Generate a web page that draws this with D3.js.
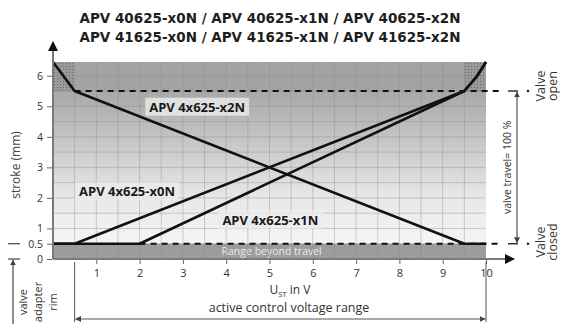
<!DOCTYPE html>
<html>
<head>
<meta charset="utf-8">
<script src="https://cdn.jsdelivr.net/npm/d3@7"></script>
<style>
html, body { margin: 0; padding: 0; background: #fff; }
svg { display: block; font-family: "Open Sans", sans-serif; }
</style>
</head>
<body>
<svg id="chart" width="569" height="324"></svg>
<script>
// chart data
const titleLines = [
    'APV 40625-x0N / APV 40625-x1N / APV 40625-x2N',
    'APV 41625-x0N / APV 41625-x1N / APV 41625-x2N'
];
const xTickValues = [1, 2, 3, 4, 5, 6, 7, 8, 9, 10];
const yTickValues = [0, 0.5, 1, 2, 3, 4, 5, 6];
const seriesNames = ['APV 4x625-x0N', 'APV 4x625-x1N', 'APV 4x625-x2N'];
const curveX0N = [[0, 0.5], [0.5, 0.5], [9.5, 5.5], [9.8, 6.0], [10, 6.45]];
const curveX1N = [[0, 0.5], [2, 0.5], [9.5, 5.5], [9.8, 6.0], [10, 6.45]];
const curveX2N = [[0, 6.45], [0.5, 5.5], [9.5, 0.5], [10, 0.5]];
const strokeOpen = 5.5;
const strokeClosed = 0.5;
const strokeMax = 6.45;
const voltageActive = [0.5, 10];

const svg = d3.select('#chart');
const x = d3.scaleLinear().domain([0, 10]).range([53, 486]);
const y = d3.scaleLinear().domain([0, strokeMax]).range([259, 62]);

const defs = svg.append('defs');

const grad = defs.append('linearGradient')
    .attr('id', 'bgGrad')
    .attr('gradientUnits', 'userSpaceOnUse')
    .attr('x1', 0).attr('x2', 0)
    .attr('y1', y(strokeOpen)).attr('y2', y(strokeClosed));
grad.append('stop').attr('offset', '0%').attr('stop-color', '#a8a8a8');
grad.append('stop').attr('offset', '35%').attr('stop-color', '#c8c8c8');
grad.append('stop').attr('offset', '70%').attr('stop-color', '#e8e8e8');
grad.append('stop').attr('offset', '100%').attr('stop-color', '#f5f5f5');

const hatch = defs.append('pattern')
    .attr('id', 'hatch')
    .attr('patternUnits', 'userSpaceOnUse')
    .attr('width', 3).attr('height', 3);
hatch.append('rect').attr('width', 3).attr('height', 3).attr('fill', '#9a9a9a');
hatch.append('rect').attr('width', 1).attr('height', 1).attr('fill', '#6a6a6a');

function arrowMarker(id, color, size) {
    defs.append('marker')
        .attr('id', id)
        .attr('viewBox', '0 0 10 10')
        .attr('refX', 9).attr('refY', 5)
        .attr('markerWidth', size).attr('markerHeight', size)
        .attr('markerUnits', 'userSpaceOnUse')
        .attr('orient', 'auto-start-reverse')
        .append('path')
        .attr('d', 'M0,0 L10,5 L0,10 z')
        .attr('fill', color);
}
arrowMarker('arrowBig', '#111', 10);
arrowMarker('arrowSmall', '#444', 6);

// background bands
const bg = svg.append('g');
bg.append('rect')
    .attr('x', x(0)).attr('y', y(strokeMax))
    .attr('width', x(10) - x(0)).attr('height', y(strokeOpen) - y(strokeMax))
    .attr('fill', '#a3a3a3');
bg.append('rect')
    .attr('x', x(0)).attr('y', y(strokeOpen))
    .attr('width', x(10) - x(0)).attr('height', y(strokeClosed) - y(strokeOpen))
    .attr('fill', 'url(#bgGrad)');
bg.append('rect')
    .attr('x', x(0)).attr('y', y(strokeClosed))
    .attr('width', x(10) - x(0)).attr('height', y(0) - y(strokeClosed))
    .attr('fill', '#9c9c9c');
[[0, 0.5], [9.5, 10]].forEach(function (c) {
    bg.append('rect')
        .attr('x', x(c[0])).attr('y', y(strokeMax))
        .attr('width', x(c[1]) - x(c[0])).attr('height', y(strokeOpen) - y(strokeMax))
        .attr('fill', 'url(#hatch)');
});

// grid every 0.5
const grid = svg.append('g').attr('stroke', '#8c8c8c').attr('stroke-opacity', 0.5).attr('stroke-width', 0.8);
grid.selectAll('line.v')
    .data(d3.range(0.5, 10, 0.5))
    .join('line')
    .attr('class', 'v')
    .attr('x1', d => x(d)).attr('x2', d => x(d))
    .attr('y1', y(strokeMax)).attr('y2', y(0));
grid.selectAll('line.h')
    .data(d3.range(0.5, 6.45, 0.5))
    .join('line')
    .attr('class', 'h')
    .attr('x1', x(0)).attr('x2', x(10))
    .attr('y1', d => y(d)).attr('y2', d => y(d));

bg.append('text')
    .attr('x', x(5.05)).attr('y', y(0.25) + 4)
    .attr('text-anchor', 'middle')
    .attr('font-size', 10.5)
    .attr('fill', '#ececec')
    .text('Range beyond travel');

// dashed limit lines
const dash = svg.append('g')
    .attr('stroke', '#111').attr('stroke-width', 2).attr('stroke-dasharray', '6,5');
dash.append('line')
    .attr('x1', x(0.5)).attr('x2', 500)
    .attr('y1', y(strokeOpen)).attr('y2', y(strokeOpen));
dash.append('line')
    .attr('x1', x(2)).attr('x2', 500)
    .attr('y1', y(strokeClosed)).attr('y2', y(strokeClosed));

// curves
const line = d3.line().x(d => x(d[0])).y(d => y(d[1]));
svg.append('g')
    .selectAll('path')
    .data([curveX0N, curveX1N, curveX2N])
    .join('path')
    .attr('d', line)
    .attr('fill', 'none')
    .attr('stroke', '#111')
    .attr('stroke-width', 2.6)
    .attr('stroke-linejoin', 'round');

// curve labels
const labelPos = [[1.71, 2.2], [5.02, 1.27], [3.33, 4.97]];
const labels = svg.append('g');
seriesNames.forEach(function (name, i) {
    const t = labels.append('text')
        .attr('x', x(labelPos[i][0])).attr('y', y(labelPos[i][1]) + 4.5)
        .attr('text-anchor', 'middle')
        .attr('font-size', 13)
        .attr('font-weight', 'bold')
        .attr('fill', '#1a1a1a')
        .text(name);
    const b = t.node().getBBox();
    labels.insert('rect', 'text')
        .attr('x', b.x - 4).attr('y', b.y)
        .attr('width', b.width + 8).attr('height', b.height)
        .attr('fill', '#ececec').attr('fill-opacity', 0.8);
});

// axes
const axisColor = '#7a7a7a';
svg.append('line')
    .attr('x1', x(0)).attr('x2', x(0))
    .attr('y1', y(0)).attr('y2', 42)
    .attr('stroke', axisColor).attr('stroke-width', 2)
    .attr('marker-end', 'url(#arrowBig)');
svg.append('line')
    .attr('x1', x(0)).attr('x2', 514)
    .attr('y1', y(0)).attr('y2', y(0))
    .attr('stroke', axisColor).attr('stroke-width', 2)
    .attr('marker-end', 'url(#arrowBig)');

const yAxis = svg.append('g')
    .attr('transform', `translate(${x(0) - 1},0)`)
    .call(d3.axisLeft(y).tickValues(yTickValues).tickSize(5).tickPadding(4)
        .tickFormat(d => d === 0.5 ? '0.5' : d));
yAxis.select('.domain').remove();
yAxis.selectAll('line').attr('stroke', '#666');
yAxis.selectAll('text').attr('font-size', 10.5).attr('fill', '#333')
    .attr('font-family', '"Open Sans", sans-serif');

const xAxis = svg.append('g')
    .attr('transform', `translate(0,${y(0) + 1})`)
    .call(d3.axisBottom(x).tickValues(xTickValues).tickSize(4).tickPadding(5));
xAxis.select('.domain').remove();
xAxis.selectAll('line').attr('stroke', '#666');
xAxis.selectAll('text').attr('font-size', 11).attr('fill', '#333')
    .attr('font-family', '"Open Sans", sans-serif');

// title
svg.append('g')
    .selectAll('text')
    .data(titleLines)
    .join('text')
    .attr('x', 270).attr('y', (d, i) => 23 + i * 19)
    .attr('text-anchor', 'middle')
    .attr('font-family', '"DejaVu Sans", sans-serif')
    .attr('font-size', 13.5)
    .attr('font-weight', 'bold')
    .attr('fill', '#1e1e1e')
    .text(d => d);

// axis titles
svg.append('text')
    .attr('transform', `translate(20,${165}) rotate(-90)`)
    .attr('text-anchor', 'middle')
    .attr('font-size', 12)
    .attr('fill', '#444')
    .text('stroke (mm)');

const ust = svg.append('text')
    .attr('x', 290).attr('y', 294)
    .attr('text-anchor', 'middle')
    .attr('font-size', 12)
    .attr('fill', '#333');
ust.append('tspan').text('U');
ust.append('tspan').attr('font-size', 7.5).attr('dy', 2.5).text('ST');
ust.append('tspan').attr('dy', -2.5).text(' in V');

svg.append('text')
    .attr('x', 289).attr('y', 312)
    .attr('text-anchor', 'middle')
    .attr('font-size', 12.5)
    .attr('fill', '#333')
    .text('active control voltage range');

// active voltage range dimension
const dim = svg.append('g').attr('stroke', '#555').attr('stroke-width', 1);
voltageActive.forEach(function (v) {
    dim.append('line')
        .attr('x1', x(v)).attr('x2', x(v))
        .attr('y1', y(0) + 3).attr('y2', 322);
});
dim.append('line')
    .attr('x1', x(voltageActive[0]) + 1).attr('x2', x(voltageActive[1]) - 1)
    .attr('y1', 319).attr('y2', 319)
    .attr('marker-start', 'url(#arrowSmall)')
    .attr('marker-end', 'url(#arrowSmall)');

// valve adapter rim reference (left)
const rim = svg.append('g').attr('stroke', '#444').attr('stroke-width', 1.2);
rim.append('line').attr('x1', 8).attr('x2', 20).attr('y1', y(strokeClosed)).attr('y2', y(strokeClosed));
rim.append('line').attr('x1', 8).attr('x2', 20).attr('y1', y(0)).attr('y2', y(0));
rim.append('line')
    .attr('x1', 13).attr('x2', 13)
    .attr('y1', 324).attr('y2', y(0) + 1)
    .attr('marker-end', 'url(#arrowSmall)');
['valve', 'adapter', 'rim'].forEach(function (w, i) {
    svg.append('text')
        .attr('transform', `translate(${27 + i * 15},302) rotate(-90)`)
        .attr('text-anchor', 'middle')
        .attr('font-size', 11)
        .attr('fill', '#333')
        .text(w);
});

// valve travel dimension (right)
const travel = svg.append('g').attr('stroke', '#333').attr('stroke-width', 1.5);
[strokeOpen, strokeClosed].forEach(function (s) {
    travel.append('line')
        .attr('x1', 508).attr('x2', 518)
        .attr('y1', y(s)).attr('y2', y(s));
    svg.append('circle')
        .attr('cx', 528).attr('cy', y(s)).attr('r', 1.3)
        .attr('fill', '#222');
});
travel.append('line')
    .attr('x1', 517).attr('x2', 517)
    .attr('y1', y(strokeOpen) + 1).attr('y2', y(strokeClosed) - 1)
    .attr('stroke-width', 1)
    .attr('marker-start', 'url(#arrowSmall)')
    .attr('marker-end', 'url(#arrowSmall)');
svg.append('text')
    .attr('transform', `translate(511,${(y(strokeOpen) + y(strokeClosed)) / 2}) rotate(-90)`)
    .attr('text-anchor', 'middle')
    .attr('font-size', 10.5)
    .attr('fill', '#333')
    .text('valve travel= 100 %');

[[['Valve', 'open'], 86], [['Valve', 'closed'], 242]].forEach(function (g) {
    g[0].forEach(function (w, i) {
        svg.append('text')
            .attr('transform', `translate(${545 + i * 12},${g[1]}) rotate(-90)`)
            .attr('text-anchor', 'middle')
            .attr('font-size', 12.5)
            .attr('fill', '#333')
            .text(w);
    });
});
</script>
</body>
</html>
